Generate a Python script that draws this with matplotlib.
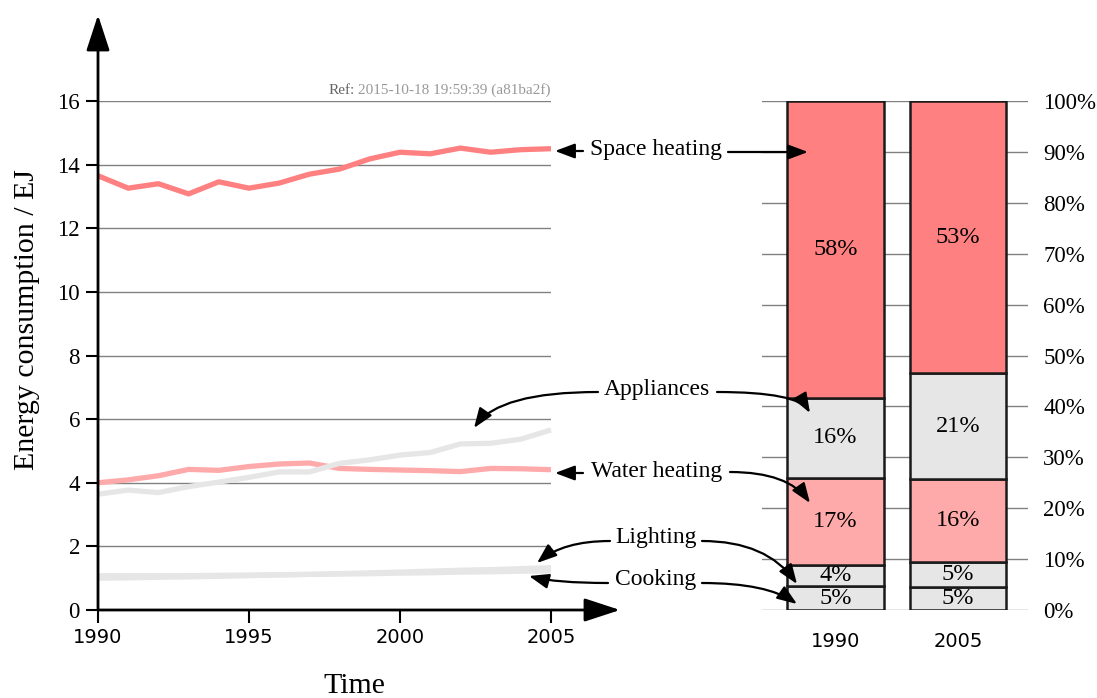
import numpy as np
import matplotlib
matplotlib.use("Agg")
import matplotlib.pyplot as plt
from matplotlib.patches import FancyArrowPatch

# ---- data (EJ) ----
years = np.arange(1990, 2006)
space_heating = [13.65, 13.26, 13.40, 13.08, 13.46, 13.26, 13.42, 13.70,
                 13.86, 14.18, 14.39, 14.34, 14.52, 14.39, 14.47, 14.50]
water_heating = [4.00, 4.09, 4.22, 4.42, 4.39, 4.51, 4.59, 4.62,
                 4.45, 4.42, 4.40, 4.38, 4.35, 4.45, 4.44, 4.41]
appliances = [3.64, 3.77, 3.69, 3.88, 4.02, 4.17, 4.34, 4.34,
              4.61, 4.72, 4.87, 4.95, 5.22, 5.24, 5.37, 5.66]
lighting = [1.00, 1.01, 1.03, 1.04, 1.06, 1.08, 1.10, 1.12,
            1.14, 1.17, 1.19, 1.22, 1.25, 1.27, 1.30, 1.33]
cooking = [1.08, 1.08, 1.08, 1.08, 1.09, 1.10, 1.11, 1.12,
           1.13, 1.14, 1.16, 1.17, 1.19, 1.20, 1.22, 1.23]

bar_years = ["1990", "2005"]
y_ticks = [0, 2, 4, 6, 8, 10, 12, 14, 16]
x_ticks = [1990, 1995, 2000, 2005]
pct_ticks = list(range(0, 101, 10))

RED = "#ff8080"
PINK = "#ffaaaa"
GREY = "#e6e6e6"
SERIF = "Liberation Serif"

W, H = 1097, 698
fig = plt.figure(figsize=(W / 100, H / 100), dpi=100)


def px(x, y):
    # top-left pixel coords -> figure pixels
    return (x, H - y)


# ---- left: line chart ----
ax = fig.add_axes([98 / W, 88 / H, 453 / W, 509 / H])
ax.set_xlim(1990, 2005)
ax.set_ylim(0, 16)
for s in ax.spines.values():
    s.set_visible(False)

ax.set_yticks(y_ticks)
ax.set_xticks(x_ticks)
ax.grid(axis="y", color="#808080", lw=1)
ax.set_axisbelow(True)
ax.tick_params(axis="y", length=9, width=1.5, pad=4, labelsize=16.5)
ax.tick_params(axis="x", length=9, width=1.5, pad=4, labelsize=14)
for t in ax.get_yticklabels():
    t.set_fontfamily(SERIF)

lw = 3.8
ax.plot(years, lighting, color=GREY, lw=lw, solid_capstyle="butt", clip_on=False)
ax.plot(years, cooking, color=GREY, lw=lw, solid_capstyle="butt", clip_on=False)
ax.plot(years, space_heating, color=RED, lw=lw, solid_capstyle="butt", clip_on=False)
ax.plot(years, water_heating, color=PINK, lw=lw, solid_capstyle="butt", clip_on=False)
ax.plot(years, appliances, color=GREY, lw=lw, solid_capstyle="butt", clip_on=False)

big_head = dict(arrowstyle="-|>,head_length=1.1,head_width=0.36",
                color="black", lw=2, mutation_scale=20, shrinkA=0, shrinkB=0)
ax.annotate("", xy=(0, (610 - 15) / 509), xytext=(0, 0),
            xycoords="axes fraction", arrowprops=big_head)
ax.annotate("", xy=((620 - 98) / 453, 0), xytext=(0, 0),
            xycoords="axes fraction", arrowprops=big_head)

fig.text(27 / W, 1 - 320 / H, "Energy consumption / EJ", rotation=90,
         ha="center", va="center", fontfamily=SERIF, fontsize=21.5)
fig.text(354 / W, 1 - 686 / H, "Time", ha="center", va="center",
         fontfamily=SERIF, fontsize=21.5)

# "Ref:" stamp, two greys
stamp = fig.text(551 / W, 1 - 90 / H, "2015-10-18 19:59:39 (a81ba2f)",
                 ha="right", va="center", fontsize=11, color="#999999",
                 fontfamily=SERIF)
fig.canvas.draw()
bb = stamp.get_window_extent()
fig.text((bb.x0 - 4) / W, 1 - 90 / H, "Ref:", ha="right", va="center",
         fontsize=11, color="#666666", fontfamily=SERIF)

# ---- right: share bars ----
series = [cooking, lighting, water_heating, appliances, space_heating]
colors = [GREY, GREY, PINK, GREY, RED]
first = np.array([s[0] for s in series])
last = np.array([s[-1] for s in series])
shares = np.array([first / first.sum() * 100, last / last.sum() * 100])

bx = fig.add_axes([762 / W, 88 / H, 266 / W, 509 / H])
bx.set_xlim(-0.6, 1.571)
bx.set_ylim(0, 100)
for s in bx.spines.values():
    s.set_visible(False)
bx.grid(axis="y", color="#808080", lw=1)
bx.set_axisbelow(True)
bx.set_yticks(pct_ticks)
bx.set_yticklabels([f"{v}%" for v in pct_ticks], fontfamily=SERIF)
bx.yaxis.tick_right()
bx.tick_params(axis="y", length=0, pad=11, labelsize=16.5)
bx.set_xticks([0, 1])
bx.set_xticklabels(bar_years)
bx.tick_params(axis="x", length=0, pad=16, labelsize=14)

for i in range(2):
    bottom = 0
    for j in range(len(series)):
        h = shares[i][j]
        bx.bar(i, h, bottom=bottom, width=0.79, color=colors[j],
               edgecolor="#1a1a1a", lw=1.8)
        bx.text(i, bottom + h / 2, f"{h:.0f}%", ha="center", va="center",
                fontsize=17.5, fontfamily=SERIF)
        bottom += h

# ---- annotations ----
labels = [("Space heating", 656, 150), ("Appliances", 657, 390),
          ("Water heating", 657, 471), ("Lighting", 656, 538),
          ("Cooking", 656, 580)]
for txt, x, y in labels:
    fig.text(x / W, 1 - y / H, txt, ha="center", va="center",
             fontsize=17, fontfamily=SERIF)

small = "-|>,head_length=0.8,head_width=0.3"
arrows = [
    ((583, 151), (555, 151), "arc3,rad=0"),
    ((728, 152), (808, 152), "arc3,rad=0"),
    ((598, 392), (474, 428), "angle3,angleA=0,angleB=55"),
    ((717, 392), (810, 413), "angle3,angleA=0,angleB=-60"),
    ((583, 473), (555, 473), "arc3,rad=0"),
    ((730, 472), (810, 503), "angle3,angleA=0,angleB=-55"),
    ((610, 541), (537, 563), "angle3,angleA=0,angleB=40"),
    ((702, 541), (797, 584), "angle3,angleA=0,angleB=-55"),
    ((608, 583), (529, 576), "angle3,angleA=0,angleB=-15"),
    ((702, 583), (797, 604), "angle3,angleA=0,angleB=-35"),
]
for start, end, conn in arrows:
    fig.add_artist(FancyArrowPatch(
        px(*start), px(*end), transform=None, arrowstyle=small,
        mutation_scale=15, lw=1.6, color="black", connectionstyle=conn,
        shrinkA=0, shrinkB=0, zorder=10))

fig.savefig("out.png", dpi=100)
